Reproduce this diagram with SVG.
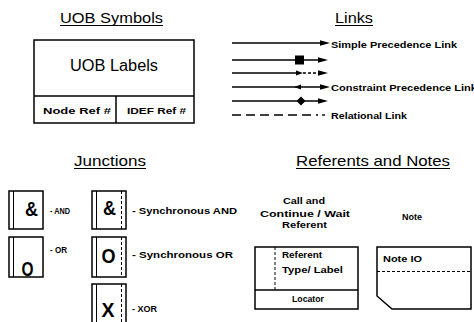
<svg xmlns="http://www.w3.org/2000/svg" width="474" height="322" viewBox="0 0 474 322">
<style>
  text { font-family: "Liberation Sans", Arial, Helvetica, sans-serif; fill: #000; }
  .title { font-size: 15px; }
  .big { font-size: 16px; }
  .lbl { font-size: 9px; font-weight: bold; }
  .lk { font-size: 9.5px; font-weight: bold; }
  .sym { font-size: 20px; font-weight: bold; }
  .box { fill: #fff; stroke: #000; stroke-width: 1.5; }
  .ln { stroke: #000; stroke-width: 1.5; fill: none; }
  .inner { stroke: #000; stroke-width: 1; fill: none; }
  .dot { stroke: #000; stroke-width: 1; fill: none; stroke-dasharray: 3 2; }
  .ul { stroke: #000; stroke-width: 1.2; }
  .link { stroke: #000; stroke-width: 1.4; fill: none; }
  .head { fill: #000; stroke: none; }
</style>
<rect x="0" y="0" width="474" height="322" fill="#fff"/>

<g id="titles">
  <text class="title" x="60" y="23" textLength="103" lengthAdjust="spacingAndGlyphs">UOB Symbols</text>
  <line class="ul" x1="60" y1="25.5" x2="163" y2="25.5"/>
  <text class="title" x="335" y="23" textLength="38" lengthAdjust="spacingAndGlyphs">Links</text>
  <line class="ul" x1="335" y1="25.5" x2="373" y2="25.5"/>
  <text class="title" x="74" y="166" textLength="72" lengthAdjust="spacingAndGlyphs">Junctions</text>
  <line class="ul" x1="74" y1="168.5" x2="146" y2="168.5"/>
  <text class="title" x="296" y="166" textLength="154" lengthAdjust="spacingAndGlyphs">Referents and Notes</text>
  <line class="ul" x1="296" y1="168.5" x2="450" y2="168.5"/>
</g>

<g id="uob-box">
  <rect class="box" x="34" y="40" width="160" height="83"/>
  <line class="ln" x1="34" y1="96" x2="194" y2="96"/>
  <line class="ln" x1="116" y1="96" x2="116" y2="123"/>
  <text class="big" x="70" y="71" textLength="88" lengthAdjust="spacingAndGlyphs">UOB Labels</text>
  <text class="lbl" x="43" y="114" textLength="68" lengthAdjust="spacingAndGlyphs">Node Ref #</text>
  <text class="lbl" x="127" y="114" textLength="59" lengthAdjust="spacingAndGlyphs">IDEF Ref #</text>
</g>

<g id="connectors">
  <!-- Simple precedence -->
  <line class="link" x1="232" y1="43" x2="322" y2="43"/>
  <polygon class="head" points="320,40.3 330,43 320,45.7"/>
  <!-- square -->
  <line class="link" x1="232" y1="60" x2="320" y2="60"/>
  <rect class="head" x="295" y="55.5" width="9" height="9"/>
  <polygon class="head" points="318,57.3 328,60 318,62.7"/>
  <!-- arrow + dashes -->
  <line class="link" x1="232" y1="73" x2="297" y2="73"/>
  <polygon class="head" points="296,70.5 303,73 296,75.5"/>
  <line class="link" x1="303" y1="73" x2="319" y2="73" stroke-dasharray="3 2"/>
  <polygon class="head" points="318,70.3 328,73 318,75.7"/>
  <!-- constraint -->
  <line class="link" x1="232" y1="87" x2="322" y2="87"/>
  <polygon class="head" points="301,84.5 294,87 301,89.5"/>
  <polygon class="head" points="320,84.3 330,87 320,89.7"/>
  <!-- diamond -->
  <line class="link" x1="232" y1="101" x2="320" y2="101"/>
  <polygon class="head" points="301,96.5 305.5,101 301,105.5 296.5,101"/>
  <polygon class="head" points="318,98.3 328,101 318,103.7"/>
  <!-- relational -->
  <line class="link" x1="232" y1="115" x2="318" y2="115" stroke-dasharray="9 5"/>
  <line class="link" x1="322" y1="115" x2="325" y2="115"/>
  <text class="lk" x="331" y="47.5" textLength="126" lengthAdjust="spacingAndGlyphs">Simple Precedence Link</text>
  <text class="lk" x="331" y="90.5" textLength="146" lengthAdjust="spacingAndGlyphs">Constraint Precedence Link</text>
  <text class="lk" x="331" y="118.5" textLength="76" lengthAdjust="spacingAndGlyphs">Relational Link</text>
</g>

<g id="junction-and">
  <rect class="box" x="9" y="191" width="34" height="38"/>
  <line class="inner" x1="13.5" y1="191" x2="13.5" y2="229"/>
  <text class="sym" x="25" y="216" textLength="13" lengthAdjust="spacingAndGlyphs">&amp;</text>
  <text class="lbl" x="50" y="214" textLength="20" lengthAdjust="spacingAndGlyphs">- AND</text>
</g>
<g id="junction-sync-and">
  <rect class="box" x="92" y="191" width="34" height="38"/>
  <line class="inner" x1="96.5" y1="191" x2="96.5" y2="229"/>
  <line class="dot" x1="121.5" y1="191" x2="121.5" y2="229"/>
  <text class="sym" x="103" y="215" textLength="13" lengthAdjust="spacingAndGlyphs">&amp;</text>
  <text class="lbl" x="132" y="214" textLength="105" lengthAdjust="spacingAndGlyphs">- Synchronous AND</text>
</g>
<g id="junction-or">
  <rect class="box" x="9" y="237" width="34" height="40"/>
  <line class="inner" x1="13.5" y1="237" x2="13.5" y2="277"/>
  <text class="sym" x="21.5" y="276" textLength="12" lengthAdjust="spacingAndGlyphs">O</text>
  <text class="lbl" x="50" y="253" textLength="17" lengthAdjust="spacingAndGlyphs">- OR</text>
</g>
<g id="junction-sync-or">
  <rect class="box" x="92" y="237" width="34" height="40"/>
  <line class="inner" x1="96.5" y1="237" x2="96.5" y2="277"/>
  <line class="dot" x1="121.5" y1="237" x2="121.5" y2="277"/>
  <text class="sym" x="101.5" y="263" textLength="14" lengthAdjust="spacingAndGlyphs">O</text>
  <text class="lbl" x="132" y="258" textLength="101" lengthAdjust="spacingAndGlyphs">- Synchronous OR</text>
</g>
<g id="junction-xor">
  <rect class="box" x="92" y="284" width="34" height="45"/>
  <line class="inner" x1="96.5" y1="284" x2="96.5" y2="329"/>
  <line class="dot" x1="121.5" y1="284" x2="121.5" y2="329"/>
  <text class="sym" x="101.5" y="317" textLength="13" lengthAdjust="spacingAndGlyphs">X</text>
  <text class="lbl" x="132" y="312" textLength="25" lengthAdjust="spacingAndGlyphs">- XOR</text>
</g>

<g id="referent">
  <text class="lbl" x="283" y="204" textLength="42" lengthAdjust="spacingAndGlyphs">Call and</text>
  <text class="lbl" x="260" y="217" textLength="90" lengthAdjust="spacingAndGlyphs">Continue / Wait</text>
  <text class="lbl" x="282" y="228" textLength="45" lengthAdjust="spacingAndGlyphs">Referent</text>
  <rect class="box" x="255" y="247" width="103" height="62"/>
  <line class="ln" x1="255" y1="290" x2="358" y2="290"/>
  <line class="dot" x1="275" y1="247" x2="275" y2="290"/>
  <text class="lbl" x="282" y="258" textLength="40" lengthAdjust="spacingAndGlyphs">Referent</text>
  <text class="lbl" x="282" y="273" textLength="61" lengthAdjust="spacingAndGlyphs">Type/ Label</text>
  <text class="lbl" x="292" y="302" textLength="32" lengthAdjust="spacingAndGlyphs">Locator</text>
</g>

<g id="note">
  <text class="lbl" x="402" y="220" textLength="20" lengthAdjust="spacingAndGlyphs">Note</text>
  <path class="box" d="M377,247 H471 V309 H392 L377,296 Z"/>
  <line class="dot" x1="377" y1="271.5" x2="471" y2="271.5"/>
  <text class="lbl" x="383" y="262" textLength="39" lengthAdjust="spacingAndGlyphs">Note IO</text>
</g>
</svg>
